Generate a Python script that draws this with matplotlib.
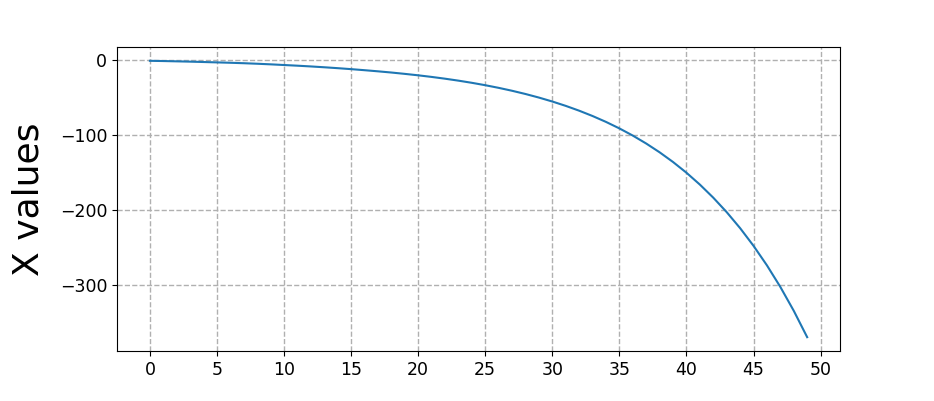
import numpy as np
import matplotlib
matplotlib.use("Agg")
import matplotlib.pyplot as plt

# values, one per step 0..49
steps = list(range(50))
x_values = [
    -1.0, -1.3, -1.7, -2.1, -2.6, -3.1, -3.6, -4.2, -4.9, -5.7,
    -6.6, -7.5, -8.5, -9.6, -10.8, -12.1, -13.5, -15.0, -16.6, -18.4,
    -20.32, -22.46, -24.82, -27.43, -30.31, -33.50, -37.03, -40.92, -45.22, -49.98,
    -55.24, -61.04, -67.46, -74.56, -82.40, -91.07, -100.64, -111.23, -122.93, -135.86,
    -150.14, -165.94, -183.39, -202.67, -223.99, -247.55, -273.58, -302.35, -334.15, -369.30,
]

fig = plt.figure(figsize=(9.34, 4.01), dpi=100)
ax = fig.add_axes([0.1253, 0.1247, 0.7741, 0.7581])

ax.plot(steps, x_values, color='#1f77b4', linewidth=1.5)
ax.set_ylabel("X values", fontsize=26, labelpad=10)
ax.set_xticks(np.arange(0, 51, 5))
ax.set_yticks([0, -100, -200, -300])
ax.tick_params(labelsize=12.5)
ax.grid(True, linestyle='--', linewidth=1.0, color='#b0b0b0')

fig.savefig("out.png", dpi=100)
